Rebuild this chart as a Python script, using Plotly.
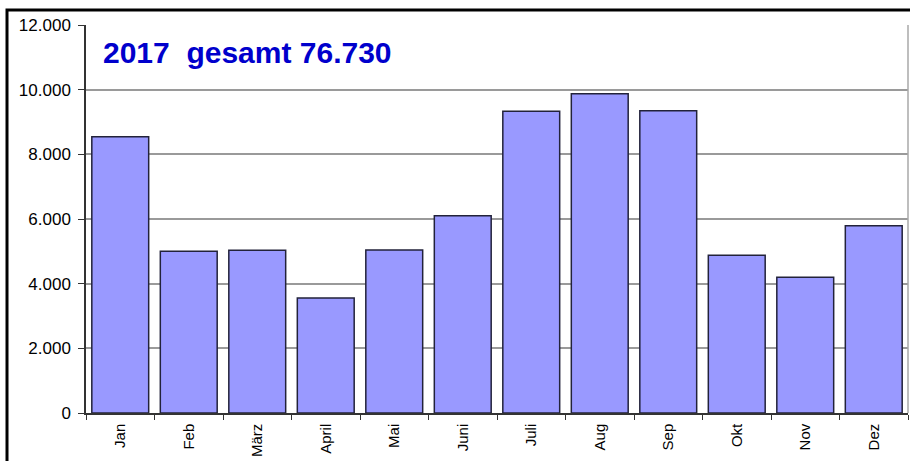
import plotly.graph_objects as go

# Monatswerte 2017
monate = ['Jan', 'Feb', 'März', 'April', 'Mai', 'Juni',
          'Juli', 'Aug', 'Sep', 'Okt', 'Nov', 'Dez']
werte = [8540, 5000, 5030, 3560, 5040, 6100,
         9330, 9870, 9350, 4880, 4200, 5790]
y_ticks = [0, 2000, 4000, 6000, 8000, 10000, 12000]
titel = '2017  gesamt 76.730'

fig = go.Figure()
fig.add_trace(go.Bar(
    x=monate, y=werte,
    marker=dict(color='#9999FF', line=dict(color='#22223a', width=1.5)),
    hoverinfo='x+y',
))

fig.update_layout(
    width=910, height=461,
    margin=dict(l=86, r=2, t=25, b=48),
    paper_bgcolor='white', plot_bgcolor='white',
    separators=',.',
    bargap=0.17,
    showlegend=False,
    font=dict(family='Liberation Sans, Arial, sans-serif', color='black'),
)

fig.update_xaxes(
    type='category', showline=True, linecolor='#333333', linewidth=1.5,
    ticks='outside', tickson='boundaries', ticklen=5, tickcolor='#333333',
    tickangle=-90, tickfont=dict(size=15), ticklabelstandoff=3, showgrid=False,
)
fig.update_yaxes(
    range=[0, 12000], tickvals=y_ticks, tickformat=',d',
    showline=True, linecolor='#333333', linewidth=1.5,
    ticks='outside', ticklen=6, tickcolor='#333333', ticklabelstandoff=4,
    tickfont=dict(size=17), showgrid=True, gridcolor='#9a9a9a', gridwidth=1.5,
    zeroline=False,
)

# rechte Begrenzung der Zeichenfläche
fig.add_shape(type='line', xref='paper', yref='paper', x0=1, x1=1, y0=0, y1=1,
              line=dict(color='#a8a8a8', width=1.5))
# schwarzer Rahmen (abgeschnitten)
fig.add_shape(type='rect', xref='paper', yref='paper',
              x0=-0.0961, x1=1.02, y0=-0.3, y1=1.0387,
              line=dict(color='black', width=3))

fig.add_annotation(
    text=titel, xref='paper', yref='paper', x=0.018, y=0.93,
    xanchor='left', yanchor='middle', showarrow=False,
    font=dict(size=30, color='#0000CC', family='Liberation Sans, Arial, sans-serif',
              weight='bold'),
)

# Seitenrand des Browsers entfernen, damit die Grafik bei (0,0) beginnt
fig.write_html('out.html', config={'displayModeBar': False},
               post_script="document.body.style.margin='0';")
